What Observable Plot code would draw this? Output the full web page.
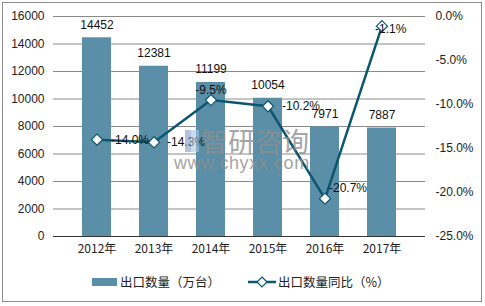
<!DOCTYPE html>
<html><head><meta charset="utf-8">
<script src="https://cdn.jsdelivr.net/npm/d3@7"></script>
<script src="https://cdn.jsdelivr.net/npm/@observablehq/plot@0.6"></script>
<style>
body{margin:0;background:#fff;font-family:"Liberation Sans",Arial,sans-serif;}
#frame{position:absolute;left:2px;top:2px;width:478px;height:298px;border:1px solid #8c8c8c;}
#chart{position:absolute;left:0;top:0;}
#legend{position:absolute;left:0;top:272px;width:485px;height:20px;font-size:12.5px;color:#222;font-family:"Noto Sans CJK SC","Liberation Sans",sans-serif;}
.wm{position:absolute;color:#8f8f8f;opacity:0.8;}
</style></head>
<body>
<div id="frame"></div>
<div id="chart"></div>
<div class="wm" style="left:185px;top:130px;width:6px;height:22px;background:#6f8fc0;opacity:0.55;"></div>
<div class="wm" style="left:191px;top:130px;width:8px;height:22px;background:#a9c4e6;opacity:0.6;"></div>
<div class="wm" style="left:201px;top:126px;font-size:27px;font-family:'Noto Sans CJK SC';line-height:30px;">智研咨询</div>
<div class="wm" style="left:174px;top:153px;font-size:18px;line-height:20px;letter-spacing:0.6px;">www.chyxx.com</div>
<div id="legend"></div>
<script>
const years = ["2012年","2013年","2014年","2015年","2016年","2017年"];
const qty = [14452, 12381, 11199, 10054, 7971, 7887];
const pct = [-14.0, -14.3, -9.5, -10.2, -20.7, -1.1];
const leftTicks = [0,2000,4000,6000,8000,10000,12000,14000,16000];
const rightTicks = [0,-5,-10,-15,-20,-25];
const seriesNames = ["出口数量（万台）","出口数量同比（%）"];

const barColor = "#5a8fa7";
const lineColor = "#0b5670";
const yMax = 16000, pMin = -25, pMax = 0;
const toY = p => (p - pMin) / (pMax - pMin) * yMax;

const data = years.map((y,i)=>({year:y, qty:qty[i], pct:pct[i], idx:i}));
// label placement for the percentage labels (Excel-like)
const place = [
  {dx:14, dy:0, anchor:"start"},
  {dx:13, dy:0, anchor:"start"},
  {dx:0, dy:-10, anchor:"middle"},
  {dx:14, dy:0, anchor:"start"},
  {dx:4, dy:-11, anchor:"start"},
  {dx:-7, dy:3, anchor:"start"}
];
const labelMarks = data.map((d,i)=>Plot.text([d], {
  x:"year", y: dd=>toY(dd.pct), text: dd=>dd.pct.toFixed(1)+"%",
  dx: place[i].dx, dy: place[i].dy, textAnchor: place[i].anchor,
  fill:"#111", fontSize:12
}));

const plot = Plot.plot({
  width:485, height:260,
  marginLeft:53, marginRight:60, marginTop:16, marginBottom:24,
  style:{fontFamily:'"Liberation Sans",Arial,sans-serif', fontSize:"12px", color:"#222", background:"transparent"},
  x:{domain:years, padding:0.5, label:null, axis:null},
  y:{domain:[0,yMax], label:null, axis:null},
  marks:[
    Plot.ruleY(leftTicks.filter(t=>t>0), {stroke:"#8a8a8a", strokeWidth:1}),
    Plot.barY(data, {x:"year", y:"qty", fill:barColor}),
    Plot.ruleY([0], {stroke:"#333", strokeWidth:1}),
    Plot.text(data, {x:"year", y:"qty", text:d=>String(d.qty), dy:-13, fill:"#111", fontSize:12}),
    Plot.line(data, {x:"year", y:d=>toY(d.pct), stroke:lineColor, strokeWidth:2.5}),
    Plot.dot(data, {x:"year", y:d=>toY(d.pct), symbol:"diamond2", r:5, fill:"white", stroke:lineColor, strokeWidth:1.2}),
    ...labelMarks,
    Plot.text(leftTicks, {y:d=>d, text:d=>String(d), frameAnchor:"left", textAnchor:"end", dx:-9, fill:"#222", fontSize:12}),
    Plot.text(rightTicks, {y:d=>toY(d), text:d=>d.toFixed(1)+"%", frameAnchor:"right", textAnchor:"start", dx:10, fill:"#222", fontSize:12}),
    Plot.text(years, {x:d=>d, text:d=>d, frameAnchor:"bottom", dy:16, fill:"#222", fontSize:12, fontFamily:'"Noto Sans CJK SC","Liberation Sans",sans-serif'})
  ]
});
document.getElementById("chart").appendChild(plot);

// legend
const lg = d3.select("#legend");
const s = lg.append("svg").attr("width",485).attr("height",20).style("position","absolute").style("left","0").style("top","0");
s.append("rect").attr("x",92).attr("y",6).attr("width",25).attr("height",8).attr("fill",barColor);
s.append("text").attr("x",120).attr("y",15).text(seriesNames[0]).attr("font-size",12.5).attr("fill","#222");
s.append("line").attr("x1",248).attr("x2",276).attr("y1",10).attr("y2",10).attr("stroke",lineColor).attr("stroke-width",2.5);
s.append("path").attr("d","M262,5L267,10L262,15L257,10Z").attr("fill","white").attr("stroke",lineColor).attr("stroke-width",1.2);
s.append("text").attr("x",278).attr("y",15).text(seriesNames[1]).attr("font-size",12.5).attr("fill","#222");
</script>
</body></html>
